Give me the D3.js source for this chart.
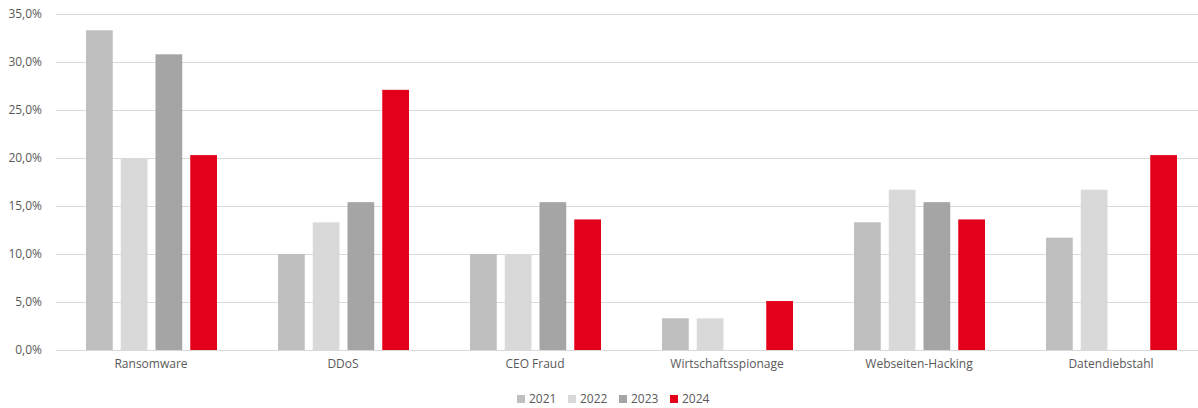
<!DOCTYPE html>
<html>
<head>
<meta charset="utf-8">
<script src="https://cdn.jsdelivr.net/npm/d3@7"></script>
<style>
  html, body { margin: 0; padding: 0; background: #fff; }
  svg { display: block; font-family: "Open Sans", "Liberation Sans", sans-serif; }
</style>
</head>
<body>
<svg id="chart" width="1198" height="408"></svg>
<script>
const categories = ["Ransomware", "DDoS", "CEO Fraud", "Wirtschaftsspionage", "Webseiten-Hacking", "Datendiebstahl"];
const years = ["2021", "2022", "2023", "2024"];
const values2021 = [33.3, 10.0, 10.0, 3.3, 13.3, 11.7];
const values2022 = [20.0, 13.3, 10.0, 3.3, 16.7, 16.7];
const values2023 = [30.8, 15.4, 15.4, 0, 15.4, 0];
const values2024 = [20.3, 27.1, 13.6, 5.1, 13.6, 20.3];
const yTicks = [0, 5, 10, 15, 20, 25, 30, 35];
const colors = ["#BFBFBF", "#D9D9D9", "#A5A5A5", "#E2001A"];

const series = [values2021, values2022, values2023, values2024];
const svg = d3.select("#chart");

const y = d3.scaleLinear().domain([0, 35]).range([350, 14]);
const x0 = d3.scaleBand().domain(categories).range([55, 1207]).padding(0);
const x1 = d3.scaleBand().domain(years).range([31, 162]).paddingInner(0.23).paddingOuter(0);

const fmt = v => v.toFixed(1).replace(".", ",") + "%";

// gridlines
svg.append("g").selectAll("line").data(yTicks).join("line")
  .attr("x1", 56).attr("x2", 1198)
  .attr("y1", d => Math.round(y(d)) + 0.5).attr("y2", d => Math.round(y(d)) + 0.5)
  .attr("stroke", "#D9D9D9").attr("stroke-width", 1);

// y labels
const yAxis = d3.axisLeft(y).tickValues(yTicks).tickFormat(fmt).tickSize(0).tickPadding(0);
const ya = svg.append("g").attr("transform", "translate(42,0)").call(yAxis);
ya.select(".domain").remove();
ya.selectAll("text").attr("fill", "#595959").style("font-size", "12px")
  .style("font-family", "'Open Sans', sans-serif");

// bars
const groups = svg.append("g").selectAll("g").data(categories).join("g")
  .attr("transform", d => `translate(${x0(d)},0)`);
groups.selectAll("rect").data((c, i) => years.map((yr, k) => ({ yr, v: series[k][i], k })))
  .join("rect")
  .attr("x", d => x1(d.yr))
  .attr("width", x1.bandwidth())
  .attr("y", d => y(d.v))
  .attr("height", d => y(0) - y(d.v))
  .attr("fill", d => colors[d.k]);

// x labels
const xAxis = d3.axisBottom(x0).tickSize(0).tickPadding(0);
const xa = svg.append("g").attr("transform", "translate(0,359)").call(xAxis);
xa.select(".domain").remove();
xa.selectAll("text").attr("fill", "#595959").style("font-size", "12px")
  .style("font-family", "'Open Sans', sans-serif");

// legend
const legend = svg.append("g").selectAll("g").data(years).join("g")
  .attr("transform", (d, i) => `translate(${517 + i * 51},399)`);
legend.append("rect").attr("x", 0).attr("y", -4).attr("width", 8).attr("height", 8)
  .attr("fill", (d, i) => colors[i]);
legend.append("text").attr("x", 12).attr("y", 0).attr("dy", "0.35em")
  .attr("fill", "#595959").style("font-size", "12px").text(d => d);
</script>
</body>
</html>
